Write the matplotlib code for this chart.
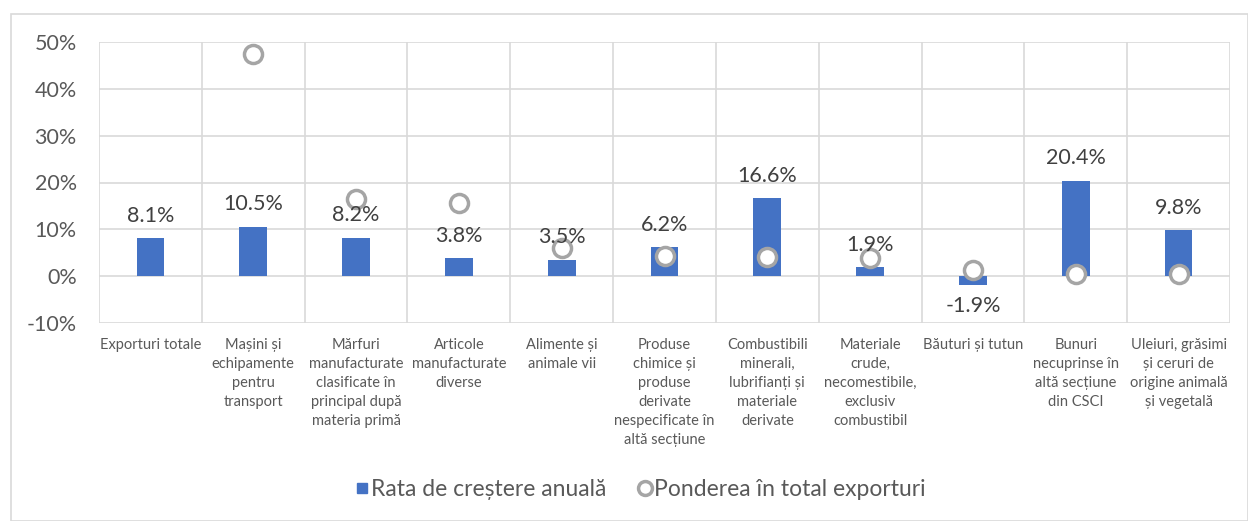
import matplotlib
matplotlib.use("Agg")
import matplotlib.pyplot as plt
from matplotlib.patches import Rectangle
from matplotlib.lines import Line2D
import numpy as np

categories = [
    "Exporturi totale",
    "Mașini și\nechipamente\npentru\ntransport",
    "Mărfuri\nmanufacturate\nclasificate în\nprincipal după\nmateria primă",
    "Articole\nmanufacturate\ndiverse",
    "Alimente și\nanimale vii",
    "Produse\nchimice și\nproduse\nderivate\nnespecificate în\naltă secțiune",
    "Combustibili\nminerali,\nlubrifianți și\nmateriale\nderivate",
    "Materiale\ncrude,\nnecomestibile,\nexclusiv\ncombustibil",
    "Băuturi și tutun",
    "Bunuri\nnecuprinse în\naltă secțiune\ndin CSCI",
    "Uleiuri, grăsimi\nși ceruri de\norigine animală\nși vegetală",
]
growth = [8.1, 10.5, 8.2, 3.8, 3.5, 6.2, 16.6, 1.9, -1.9, 20.4, 9.8]
share = [100.0, 47.5, 16.5, 15.6, 6.1, 4.3, 4.1, 3.9, 1.3, 0.4, 0.4]
yticks = [-10, 0, 10, 20, 30, 40, 50]

series_names = ["Rata de creștere anuală", "Ponderea în total exporturi"]

plt.rcParams['font.family'] = ['Lato', 'DejaVu Sans']
W, H = 1248, 521
fig = plt.figure(figsize=(W / 100, H / 100), dpi=100)
fig.patches.append(Rectangle((11 / W, 0), (W - 11) / W, (H - 14) / H, transform=fig.transFigure,
                             fill=False, edgecolor='#D9D9D9', lw=1.2))
ax = fig.add_axes([99 / W, (H - 323) / H, (1230 - 99) / W, (323 - 42) / H])

x = np.arange(len(categories))
blue = '#4472C4'
grey_txt = '#595959'

ax.bar(x, growth, width=0.27, color=blue, zorder=3)
ax.plot(x, share, 'o', ls='none', mfc='white', mec='#A5A5A5', mew=2.5, ms=13, zorder=4)

for xi, v in zip(x, growth):
    if v >= 0:
        ax.annotate(f"{v:.1f}%", (xi, v), xytext=(0, 9), textcoords='offset points',
                    ha='center', va='bottom', fontsize=15.5, color='#404040', zorder=5)
    else:
        ax.annotate(f"{v:.1f}%", (xi, v), xytext=(0, -8), textcoords='offset points',
                    ha='center', va='top', fontsize=15.5, color='#404040', zorder=5)

ax.set_xlim(-0.5, len(categories) - 0.5)
ax.set_ylim(-10, 50)
ax.set_yticks(yticks)
ax.set_yticklabels([f"{t}%" for t in yticks], fontsize=15.5, color=grey_txt)
ax.set_xticks(x)
ax.set_xticklabels(categories, fontsize=10.5, color=grey_txt, linespacing=1.45, va='top')
ax.set_xticks(np.arange(-0.5, len(categories), 1.0), minor=True)
ax.tick_params(axis='both', which='both', length=0)
ax.tick_params(axis='x', pad=11)
ax.tick_params(axis='y', pad=16)
ax.grid(True, axis='y', color='#D9D9D9', lw=1.2, zorder=0)
ax.grid(True, axis='x', which='minor', color='#D9D9D9', lw=1.2, zorder=0)
ax.grid(False, axis='x', which='major')
for s in ax.spines.values():
    s.set_visible(False)

handles = [
    Line2D([], [], marker='s', ls='none', color=blue, ms=7.5),
    Line2D([], [], marker='o', ls='none', mfc='white', mec='#A5A5A5', mew=2.5, ms=10),
]
leg = fig.legend(handles, series_names, loc='center', bbox_to_anchor=(639 / W, (H - 490) / H),
                 ncol=2, frameon=False, fontsize=16.5, handletextpad=0.0, columnspacing=1.3,
                 handlelength=0.8)
for t in leg.get_texts():
    t.set_color(grey_txt)

fig.savefig("out.png", dpi=100)
